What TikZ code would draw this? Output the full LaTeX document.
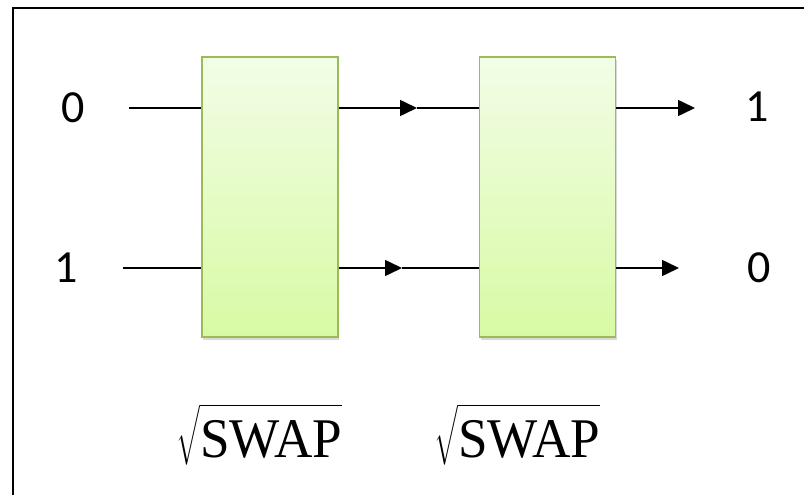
\documentclass[tikz,border=0pt]{standalone}
\usepackage{amsmath}
\usepackage{exscale}
\usepackage{fontspec}
\usetikzlibrary{arrows.meta, shadows}
\newfontfamily\numfont{Carlito}
\newfontfamily\gatefont{Liberation Serif}
\definecolor{gateline}{HTML}{9BBB59}
\definecolor{gatetop}{HTML}{F2FDE6}
\definecolor{gatebot}{HTML}{D8FAA4}

\begin{document}
\begin{tikzpicture}[x=1pt,y=-1pt]

\tikzset{gate/.style = {shape=rectangle,draw=gateline,line width=1.5pt,top color=gatetop,bottom color=gatebot,minimum width=136pt,minimum height=280pt,drop shadow={opacity=0.3,shadow xshift=1pt,shadow yshift=-3pt}}}
\tikzset{wire/.style = {line width=1.6pt}}
\tikzset{arr/.style = {wire,-{Triangle[length=17pt,width=16pt]}}}
\tikzset{bit/.style = {font=\numfont\fontsize{46}{50}\selectfont}}
\tikzset{gatelabel/.style = {font=\fontsize{56}{60}\selectfont,anchor=base,inner sep=0pt}}

\useasboundingbox (0,0) rectangle (804,495);
\draw[line width=1.3pt] (13,495) -- (13,8) -- (804,8);

%gates
\node[gate] (g1) at (270,197) {};
\node[gate] (g2) at (547.5,197) {};
\node[gatelabel] (n1) at (259.5,457) {\scalebox{0.95}[1]{$\sqrt{\rule[-4pt]{0pt}{50pt}\mbox{\gatefont SWAP}}$}};
\node[gatelabel] (n2) at (517.5,457) {\scalebox{0.95}[1]{$\sqrt{\rule[-4pt]{0pt}{50pt}\mbox{\gatefont SWAP}}$}};

%inputs and outputs
\node[bit] (a0) at (73,108) {0};
\node[bit] (a1) at (66,268) {1};
\node[bit] (b0) at (757,107) {1};
\node[bit] (b1) at (759,268) {0};
\coordinate (i0) at (129,108);
\coordinate (i1) at (123,268);
\coordinate (m0) at (417,108);
\coordinate (m1) at (402,268);
\coordinate (o0) at (695,108);
\coordinate (o1) at (679,268);

%wires
\draw[wire] (i0) -- (g1.west|-i0);
\draw[wire] (i1) -- (g1.west|-i1);
\draw[arr] (g1.east|-i0) -- (m0);
\draw[wire] (m0) -- (g2.west|-i0);
\draw[arr] (g1.east|-i1) -- (m1);
\draw[wire] (m1) -- (g2.west|-i1);
\draw[arr] (g2.east|-i0) -- (o0);
\draw[arr] (g2.east|-i1) -- (o1);
\end{tikzpicture}
\end{document}
